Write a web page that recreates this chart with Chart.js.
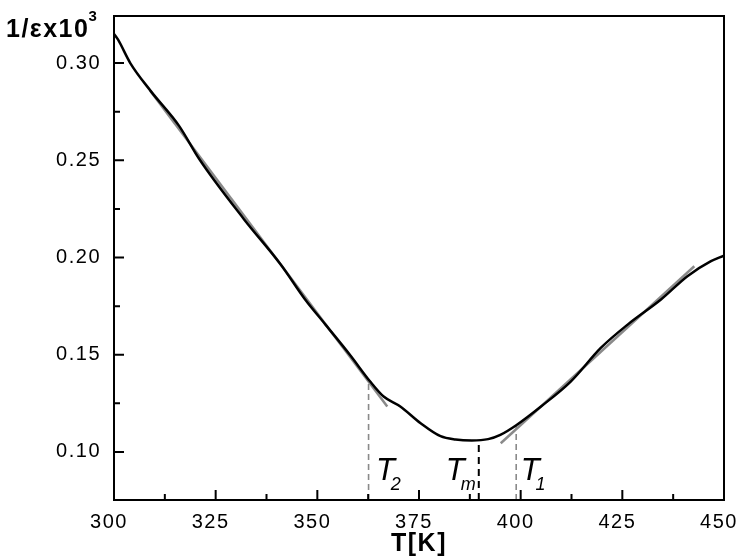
<!DOCTYPE html>
<html>
<head>
<meta charset="utf-8">
<script src="https://cdn.jsdelivr.net/npm/chart.js@4.4.1/dist/chart.umd.min.js"></script>
<style>
  body { margin: 0; background: #fff; }
  #wrap { width: 739px; height: 559px; }
</style>
</head>
<body>
<div id="wrap"><canvas id="myChart" width="739" height="559"></canvas></div>
<script>
// measured curve 1/eps x10^3 vs temperature
const tempK = [300, 301, 304, 309, 316, 321, 332, 341, 347, 352, 358, 363, 366.3, 370.4, 375.4, 380.3, 384, 388, 392, 395, 399, 405, 412.3, 419.7, 426.3, 434.5, 441, 446.8, 450];
const invEps = [0.315, 0.312, 0.300, 0.2857, 0.2677, 0.2505, 0.2196, 0.1964, 0.1784, 0.1655, 0.150, 0.1362, 0.1285, 0.1234, 0.1148, 0.1081, 0.1064, 0.1059, 0.1066, 0.1088, 0.1139, 0.1234, 0.1362, 0.1535, 0.1655, 0.1784, 0.1904, 0.1981, 0.201];

// linear fits (gray) on both branches
const fitLowT = [308.9, 367.2];
const fitLowV = [0.2857, 0.1234];
const fitHighT = [395.1, 442.7];
const fitHighV = [0.1045, 0.1955];

// characteristic temperatures: T2, Tm, T1
const markNames = ['2', 'm', '1'];
const markT = [362.6, 389.7, 398.9];
const markV = [0.1362, 0.1060, 0.1139];
const markLabelT = [364.4, 381.6, 400.0];

// axis range and ticks
const xMin = 300, xMax = 450, xStep = 25;
const yMin = 0.0753, yMax = 0.3242, yStep = 0.05;

const pts = (xs, ys) => xs.map((x, i) => ({ x: x, y: ys[i] }));

const datasets = [
  { data: pts(tempK, invEps), borderColor: '#000', borderWidth: 2.5, cubicInterpolationMode: 'monotone' },
  { data: pts(fitLowT, fitLowV), borderColor: '#8a8a8a', borderWidth: 2.5 },
  { data: pts(fitHighT, fitHighV), borderColor: '#8a8a8a', borderWidth: 2.5 }
];
markT.forEach((t, i) => {
  datasets.push({
    data: [{ x: t, y: yMin }, { x: t, y: markV[i] }],
    borderColor: i === 1 ? '#000' : '#8a8a8a',
    borderWidth: i === 1 ? 2 : 1.6,
    borderDash: i === 1 ? [7, 5] : [6, 4]
  });
});

// frame, inward ticks, labels that chart.js can't do itself
const extras = {
  id: 'extras',
  beforeDraw(chart) {
    chart.ctx.letterSpacing = '1.5px';
  },
  afterDraw(chart) {
    const ctx = chart.ctx;
    const a = chart.chartArea;
    const xs = chart.scales.x, ys = chart.scales.y;
    ctx.save();
    ctx.strokeStyle = '#000';
    ctx.lineWidth = 2;
    ctx.strokeRect(a.left, a.top, a.right - a.left, a.bottom - a.top);

    ctx.beginPath();
    for (let v = xMin; v <= xMax + 1e-9; v += xStep / 2) {
      const px = xs.getPixelForValue(v);
      const major = Math.abs((v - xMin) % xStep) < 1e-6;
      ctx.moveTo(px, a.bottom);
      ctx.lineTo(px, a.bottom - (major ? 10 : 6));
    }
    const firstY = Math.ceil(yMin / (yStep / 2) - 1e-9) * (yStep / 2);
    for (let v = firstY; v <= yMax; v += yStep / 2) {
      const py = ys.getPixelForValue(v);
      const major = Math.abs(v / yStep - Math.round(v / yStep)) < 1e-6;
      ctx.moveTo(a.left, py);
      ctx.lineTo(a.left + (major ? 10 : 6), py);
    }
    ctx.stroke();

    // T2 / Tm / T1 labels
    ctx.fillStyle = '#000';
    ctx.textBaseline = 'alphabetic';
    ctx.letterSpacing = '0px';
    markNames.forEach((s, i) => {
      const px = xs.getPixelForValue(markLabelT[i]);
      const py = ys.getPixelForValue(0.0856);
      ctx.font = 'italic 31px "Liberation Sans"';
      ctx.fillText('T', px, py);
      const w = ctx.measureText('T').width;
      ctx.font = 'italic 18px "Liberation Sans"';
      ctx.fillText(s, px + w - 4, ys.getPixelForValue(0.0802));
    });

    // y title at top left
    ctx.letterSpacing = '1.5px';
    ctx.font = 'bold 25px "Liberation Sans"';
    ctx.fillText('1/εx10', 6, 37);
    const tw = ctx.measureText('1/εx10').width;
    ctx.font = 'bold 15px "Liberation Sans"';
    ctx.fillText('3', 6 + tw - 1, 21);
    ctx.restore();
  }
};

const config = {
  type: 'line',
  data: { datasets: datasets },
  options: {
    responsive: false,
    animation: false,
    layout: { padding: { left: 0, top: 16, right: 15, bottom: 0 } },
    elements: { point: { radius: 0 }, line: { tension: 0 } },
    plugins: { legend: { display: false }, tooltip: { enabled: false } },
    scales: {
      x: {
        type: 'linear',
        min: xMin,
        max: xMax,
        grid: { drawOnChartArea: false, drawTicks: false },
        border: { color: '#000', width: 2 },
        ticks: {
          stepSize: xStep,
          color: '#000',
          padding: 10,
          labelOffset: -5,
          maxRotation: 0,
          font: { family: 'Liberation Sans', size: 20 }
        },
        title: {
          display: true,
          text: 'T[K]',
          color: '#000',
          padding: { top: 0, bottom: 0 },
          font: { family: 'Liberation Sans', size: 25, weight: 'bold' }
        },
        afterFit(s) { s.height = 59; s.paddingLeft = 0; s.paddingRight = 0; }
      },
      y: {
        type: 'linear',
        min: yMin,
        max: yMax,
        grid: { drawOnChartArea: false, drawTicks: false },
        border: { color: '#000', width: 2 },
        ticks: {
          stepSize: yStep,
          includeBounds: false,
          color: '#000',
          padding: 13,
          font: { family: 'Liberation Sans', size: 20 },
          callback: v => v.toFixed(2)
        },
        afterFit(s) { s.width = 114; s.paddingTop = 0; s.paddingBottom = 0; }
      }
    }
  },
  plugins: [extras]
};

const ctx = document.getElementById('myChart').getContext('2d');
const myChart = new Chart(ctx, config);
</script>
</body>
</html>
